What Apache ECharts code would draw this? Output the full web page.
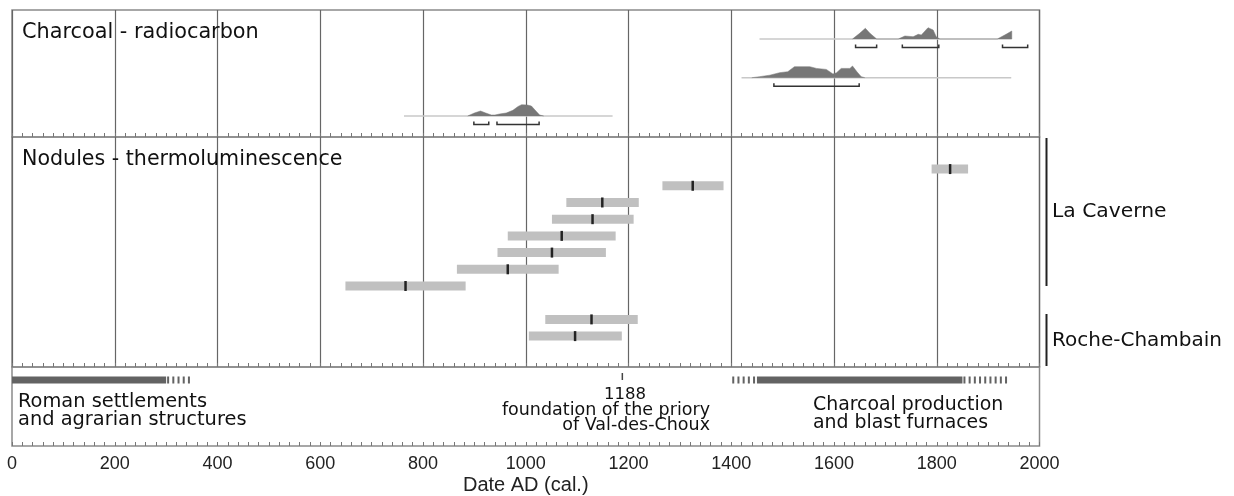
<!DOCTYPE html>
<html>
<head>
<meta charset="utf-8">
<title>Dating</title>
<script src="https://cdn.jsdelivr.net/npm/echarts@6/dist/echarts.min.js"></script>
<style>
  html, body { margin: 0; padding: 0; background: #fff; }
  #chart { width: 1234px; height: 496px; }
</style>
</head>
<body>
<div id="chart"></div>
<script>
// --- radiocarbon (charcoal): calibrated curves, [year, relative probability]
var c14Span = [[763, 1169], [1420, 1945], [1455, 1946]];
var c14Curve = [
    [[887, 0], [900, 3], [912, 5], [922, 3], [933, 1], [940, 1], [949, 2], [962, 3], [975, 5.7],
     [985, 9.5], [992, 11.3], [1003, 11], [1011, 10], [1018, 6], [1027, 1], [1035, 0]],
    [[1440, 0], [1455, 1], [1475, 2.5], [1494, 5], [1510, 6], [1523, 11], [1553, 11], [1566, 9.3],
     [1585, 8.3], [1598, 3.7], [1605, 5], [1614, 9.3], [1631, 9.3], [1636, 11.7], [1645, 5.7],
     [1653, 1], [1660, 0]],
    [[1636, 0], [1650, 5.7], [1661, 10.7], [1670, 5.7], [1683, 0], [1725, 0], [1738, 3], [1754, 2.3],
     [1764, 4.7], [1770, 4], [1783, 11.3], [1793, 9], [1799, 2.3], [1806, 0], [1918, 0], [1935, 4.7],
     [1946, 8], [1946, 0]]
];
var c14Ranges = [
    [[899, 928], [944, 1026]],
    [[1483, 1649]],
    [[1642, 1683], [1733, 1804], [1928, 1977]]
];

// --- thermoluminescence (nodules): low / central / high, row 8 left empty
var tlRow  = [0, 1, 2, 3, 4, 5, 6, 7, 9, 10];
var tlLow  = [1790, 1266, 1079, 1051, 965, 945, 866, 649, 1038, 1006];
var tlMid  = [1826, 1325, 1149, 1130, 1070, 1051, 965, 766, 1128, 1096];
var tlHigh = [1861, 1385, 1220, 1210, 1175, 1156, 1064, 883, 1218, 1187];

// --- historical periods (1 = attested, 0 = uncertain)
var periodFrom = [0, 300, 1400, 1450, 1850];
var periodTo   = [300, 350, 1450, 1850, 1940];
var periodSure = [1, 0, 0, 1, 0];
var eventYear  = [1188];

var yearTicks = [0, 200, 400, 600, 800, 1000, 1200, 1400, 1600, 1800, 2000];

var laneLevel = [21, 59.3, 98];      // y level of each radiocarbon sample
var FONT = '"DejaVu Sans", Verdana, sans-serif';

var myChart = echarts.init(document.getElementById('chart'));

function xAxisFor(i) {
    return {
        type: 'value', gridIndex: i, min: 0, max: 2000, interval: 200, position: 'bottom',
        axisLine: {show: false, onZero: false},
        axisTick: {show: true, inside: true, length: 4, lineStyle: {color: '#777', width: 1}},
        minorTick: {show: true, splitNumber: 10, length: 4, lineStyle: {color: '#777', width: 1}},
        splitLine: {show: i < 2, lineStyle: {color: '#666', width: 1.2}},
        axisLabel: {
            show: i === 2, margin: 9, color: '#222', fontSize: 18,
            fontFamily: '"Liberation Sans", Arial, sans-serif',
            formatter: function (v) { return yearTicks.indexOf(v) >= 0 ? String(v) : ''; }
        },
        name: i === 2 ? 'Date AD (cal.)' : '',
        nameLocation: 'middle', nameGap: 29,
        nameTextStyle: {color: '#222', fontSize: 20, fontFamily: '"Liberation Sans", Arial, sans-serif'}
    };
}

var series = [];
c14Span.forEach(function (s, i) {
    series.push({
        type: 'line', xAxisIndex: 0, yAxisIndex: 0, symbol: 'none', silent: true, z: 2,
        lineStyle: {color: '#c8c8c8', width: 1.5},
        data: [[s[0], laneLevel[i]], [s[1], laneLevel[i]]]
    });
    series.push({
        type: 'line', xAxisIndex: 0, yAxisIndex: 0, symbol: 'none', silent: true, z: 3,
        lineStyle: {color: '#777', width: 0.5},
        areaStyle: {color: '#777', opacity: 1, origin: laneLevel[i]},
        data: c14Curve[i].map(function (p) { return [p[0], laneLevel[i] + p[1]]; })
    });
});

var bracketData = [];
c14Ranges.forEach(function (rs, i) {
    rs.forEach(function (r) { bracketData.push([r[0], r[1], laneLevel[i] - 8.5]); });
});
series.push({
    type: 'custom', xAxisIndex: 0, yAxisIndex: 0, silent: true, z: 4,
    data: bracketData,
    renderItem: function (params, api) {
        var a = api.coord([api.value(0), api.value(2)]);
        var b = api.coord([api.value(1), api.value(2)]);
        return {
            type: 'polyline',
            shape: {points: [[a[0], a[1] - 3], [a[0], a[1]], [b[0], b[1]], [b[0], b[1] - 3]]},
            style: {stroke: '#333', lineWidth: 1.5, fill: null}
        };
    }
});

series.push({
    type: 'custom', xAxisIndex: 1, yAxisIndex: 1, silent: true, z: 4,
    data: tlRow.map(function (r, i) { return [tlLow[i], tlMid[i], tlHigh[i], r]; }),
    renderItem: function (params, api) {
        var lo = api.coord([api.value(0), api.value(3)]);
        var mid = api.coord([api.value(1), api.value(3)]);
        var hi = api.coord([api.value(2), api.value(3)]);
        return {
            type: 'group',
            children: [
                {type: 'rect', shape: {x: lo[0], y: lo[1] - 4.5, width: hi[0] - lo[0], height: 9},
                 style: {fill: '#c0c0c0'}},
                {type: 'rect', shape: {x: mid[0] - 1.25, y: mid[1] - 5, width: 2.5, height: 10},
                 style: {fill: '#222'}}
            ]
        };
    }
});

series.push({
    type: 'custom', xAxisIndex: 2, yAxisIndex: 2, silent: true, z: 4,
    data: periodFrom.map(function (f, i) { return [f, periodTo[i], periodSure[i]]; }),
    renderItem: function (params, api) {
        var a = api.coord([api.value(0), 13]);
        var b = api.coord([api.value(1), 13]);
        if (api.value(2)) {
            return {type: 'rect', shape: {x: a[0], y: a[1] - 3.5, width: b[0] - a[0], height: 7},
                    style: {fill: '#636363'}};
        }
        return {type: 'line', shape: {x1: a[0] + 1, y1: a[1], x2: b[0], y2: b[1]},
                style: {stroke: '#636363', lineWidth: 7, lineDash: [2, 3.2]}};
    }
});

series.push({
    type: 'custom', xAxisIndex: 2, yAxisIndex: 2, silent: true, z: 4,
    data: eventYear.map(function (y) { return [y]; }),
    renderItem: function (params, api) {
        var a = api.coord([api.value(0), 6]);
        var b = api.coord([api.value(0), 13]);
        return {type: 'line', shape: {x1: a[0], y1: a[1], x2: b[0], y2: b[1]},
                style: {stroke: '#444', lineWidth: 1.5}};
    }
});

function txt(x, y, text, size, align, lh) {
    return {
        type: 'text', x: x, y: y, silent: true, z: 10,
        style: {text: text, font: size + 'px ' + FONT, fill: '#111',
                align: align || 'left', verticalAlign: 'middle', lineHeight: lh || size}
    };
}

var option = {
    animation: false,
    grid: [
        {left: 12, right: 194.5, top: 10, height: 127, show: true, borderColor: '#8a8a8a', borderWidth: 1.5, outerBoundsMode: 'none'},
        {left: 12, right: 194.5, top: 137, height: 230, show: true, borderColor: '#8a8a8a', borderWidth: 1.5, outerBoundsMode: 'none'},
        {left: 12, right: 194.5, top: 367, height: 79, show: true, borderColor: '#8a8a8a', borderWidth: 1.5, outerBoundsMode: 'none'}
    ],
    xAxis: [xAxisFor(0), xAxisFor(1), xAxisFor(2)],
    yAxis: [
        {type: 'value', gridIndex: 0, min: 0, max: 127, show: false},
        {type: 'value', gridIndex: 1, min: -1.92, max: 11.85, inverse: true, show: false},
        {type: 'value', gridIndex: 2, min: 0, max: 79, inverse: true, show: false}
    ],
    series: series,
    graphic: [
        txt(22, 33, 'Charcoal - radiocarbon', 20.8),
        txt(22, 160, 'Nodules - thermoluminescence', 20.6),
        txt(1052, 212, 'La Caverne', 20.3),
        txt(1052, 341, 'Roche-Chambain', 20),
        {type: 'line', silent: true, shape: {x1: 1046.5, y1: 138, x2: 1046.5, y2: 286},
         style: {stroke: '#222', lineWidth: 2}},
        {type: 'line', silent: true, shape: {x1: 1046.5, y1: 314, x2: 1046.5, y2: 366},
         style: {stroke: '#222', lineWidth: 2}},
        txt(18, 411, 'Roman settlements\nand agrarian structures', 19.4, 'left', 18),
        txt(625, 395, '1188', 16.5, 'center'),
        txt(710, 417.5, 'foundation of the priory\nof Val-des-Choux', 17.5, 'right', 15),
        txt(813, 414, 'Charcoal production\nand blast furnaces', 18.9, 'left', 18)
    ]
};
myChart.setOption(option, true);
window.addEventListener('resize', function () {
    myChart.resize();
});
</script>
</body>
</html>
